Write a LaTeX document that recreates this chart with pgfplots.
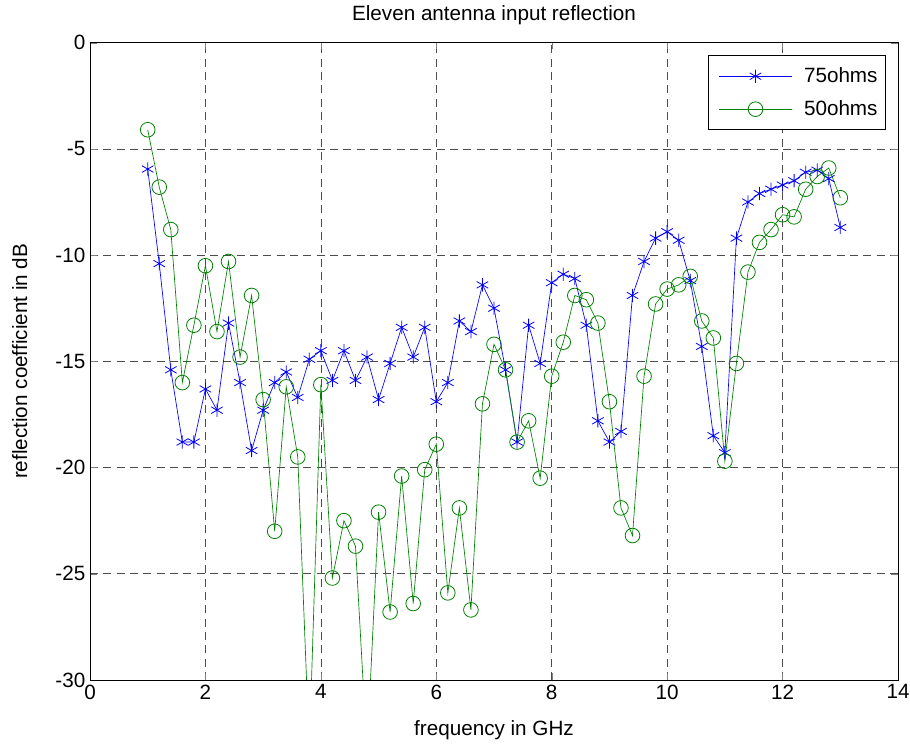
\documentclass[border=0pt]{standalone}
\usepackage{pgfplots}
\pgfplotsset{compat=1.18}
\usepackage{fontspec}
\setmainfont{Liberation Sans}
\definecolor{mblue}{rgb}{0,0,1}
\definecolor{mgreen}{rgb}{0,0.5,0}
\begin{document}
\begin{tikzpicture}
\begin{axis}[
  scale only axis, width=606pt, height=478pt,
  xmin=0, xmax=14, ymin=-30, ymax=0,
  xtick={0,2,...,14}, ytick={-30,-25,...,0},
  /pgf/number format/assume math mode=true,
  font=\fontsize{15.5}{18}\selectfont,
  tick label style={font=\fontsize{15.5}{18}\selectfont},
  tick align=inside, tick pos=both,
  major tick length=5pt,
  grid=major,
  major grid style={black!70, dash pattern=on 6pt off 4pt, line width=0.5pt},
  axis line style={black, line width=0.6pt},
  title={Eleven antenna input reflection},
  xlabel={frequency in GHz},
  ylabel={reflection coefficient in dB},
  title style={at={(axis description cs:0.5,1.031)}, anchor=center, yshift=0pt},
  xlabel style={at={(axis description cs:0.5,-0.0785)}, anchor=center, yshift=0pt},
  ylabel style={at={(axis description cs:-0.087,0.5)}, anchor=center, xshift=0pt},
  legend style={at={(0.985,0.98)}, anchor=north east, draw=black, line width=0.5pt,
    font=\fontsize{15.5}{18}\selectfont, row sep=8pt, inner xsep=4pt, inner ysep=7pt},
  legend cell align=left,
  legend image code/.code={\path (-0.15cm,0cm) (2.15cm,0cm);\draw[mark repeat=2,mark phase=2] plot coordinates {(0cm,0cm) (0.95cm,0cm) (1.9cm,0cm)};},
]
\addplot[mblue, line width=0.5pt, mark=asterisk, mark size=5pt, mark options={line width=0.6pt}] coordinates {
(1.0,-5.95) (1.2,-10.4) (1.4,-15.4) (1.6,-18.8) (1.8,-18.8) (2.0,-16.3) (2.2,-17.3) (2.4,-13.2) (2.6,-16.0) (2.8,-19.2)
(3.0,-17.3) (3.2,-16.0) (3.4,-15.5) (3.6,-16.7) (3.8,-14.9) (4.0,-14.5) (4.2,-15.9) (4.4,-14.5) (4.6,-15.9) (4.8,-14.8)
(5.0,-16.8) (5.2,-15.1) (5.4,-13.4) (5.6,-14.8) (5.8,-13.4) (6.0,-16.9) (6.2,-16.0) (6.4,-13.1) (6.6,-13.6) (6.8,-11.4)
(7.0,-12.5) (7.2,-15.4) (7.4,-18.8) (7.6,-13.3) (7.8,-15.1) (8.0,-11.3) (8.2,-10.9) (8.4,-11.1) (8.6,-13.3) (8.8,-17.8)
(9.0,-18.8) (9.2,-18.3) (9.4,-11.9) (9.6,-10.3) (9.8,-9.2) (10.0,-8.9) (10.2,-9.3) (10.4,-11.2) (10.6,-14.3) (10.8,-18.5)
(11.0,-19.3) (11.2,-9.2) (11.4,-7.5) (11.6,-7.1) (11.8,-6.9) (12.0,-6.7) (12.2,-6.5) (12.4,-6.1) (12.6,-6.0) (12.8,-6.4)
(13.0,-8.7)
};
\addlegendentry{75ohms}
\addplot[mgreen, line width=0.5pt, mark=o, mark size=5.5pt, mark options={line width=0.6pt}] coordinates {
(1.0,-4.1) (1.2,-6.8) (1.4,-8.8) (1.6,-16.0) (1.8,-13.3) (2.0,-10.5) (2.2,-13.6) (2.4,-10.3) (2.6,-14.8) (2.8,-11.9)
(3.0,-16.8) (3.2,-23.0) (3.4,-16.2) (3.6,-19.5) (3.8,-33.3) (4.0,-16.1) (4.2,-25.2) (4.4,-22.5) (4.6,-23.7) (4.8,-33.4)
(5.0,-22.1) (5.2,-26.8) (5.4,-20.4) (5.6,-26.4) (5.8,-20.1) (6.0,-18.9) (6.2,-25.9) (6.4,-21.9) (6.6,-26.7) (6.8,-17.0)
(7.0,-14.2) (7.2,-15.4) (7.4,-18.8) (7.6,-17.8) (7.8,-20.5) (8.0,-15.7) (8.2,-14.1) (8.4,-11.9) (8.6,-12.1) (8.8,-13.2)
(9.0,-16.9) (9.2,-21.9) (9.4,-23.2) (9.6,-15.7) (9.8,-12.3) (10.0,-11.6) (10.2,-11.4) (10.4,-11.0) (10.6,-13.1) (10.8,-13.9)
(11.0,-19.7) (11.2,-15.1) (11.4,-10.8) (11.6,-9.4) (11.8,-8.8) (12.0,-8.1) (12.2,-8.2) (12.4,-6.9) (12.6,-6.3) (12.8,-5.9)
(13.0,-7.3)
};
\addlegendentry{50ohms}
\end{axis}
\pgfresetboundingbox
\path (-67.5pt,-51pt) rectangle (615pt,510pt);
\end{tikzpicture}
\end{document}
